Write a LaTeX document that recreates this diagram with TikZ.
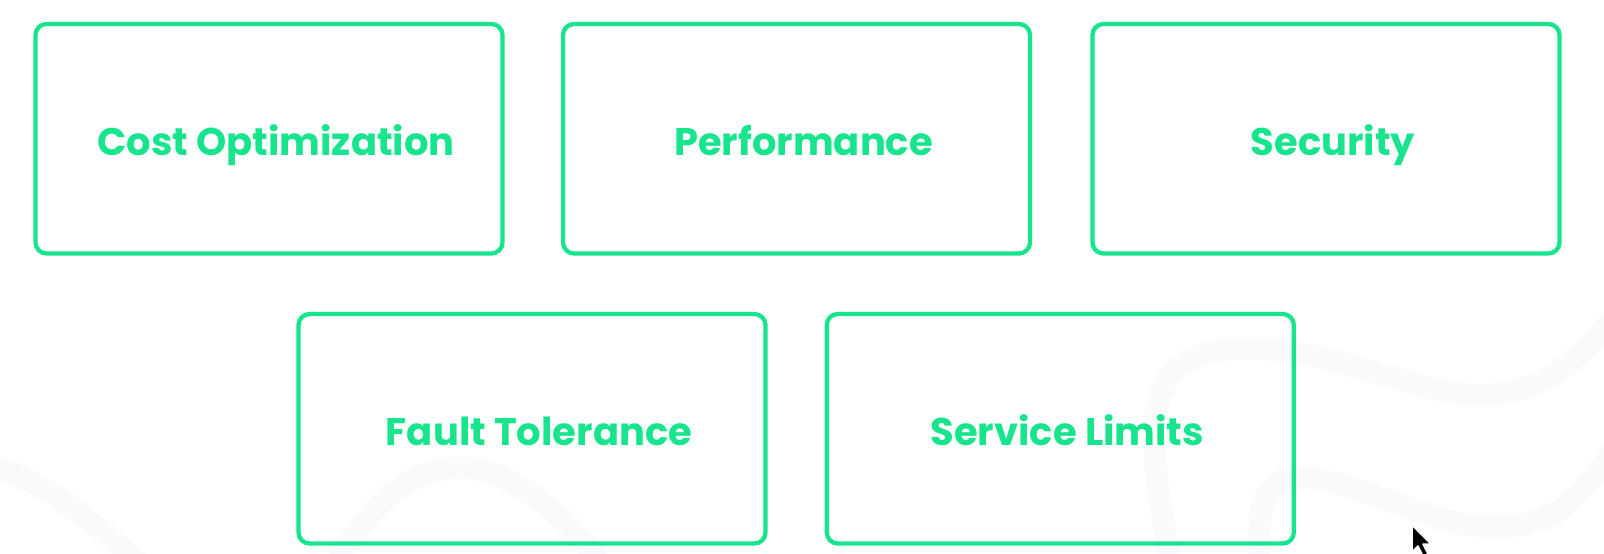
\documentclass[tikz,border=0pt]{standalone}
\usepackage{fontspec}
\setmainfont{Poppins}
\definecolor{mint}{RGB}{24,228,142}
\definecolor{wave}{RGB}{250,250,252}
\begin{document}
\begin{tikzpicture}[x=1pt,y=-1pt,
  card/.style={draw=mint, line width=4.3pt, rounded corners=11pt, minimum width=467pt, minimum height=229.5pt, inner sep=0pt},
  lbl/.style={text=mint, font=\fontsize{38.5}{42}\selectfont\bfseries, anchor=base, inner sep=0pt},
  bgwave/.style={draw=wave, line width=22pt, line cap=round}]
\fill[white] (0,0) rectangle (1604,554);
\useasboundingbox (0,0) rectangle (1604,554);
% faint background waves
\draw[bgwave] (-20,462) .. controls (50,480) and (100,530) .. (160,580);
\draw[bgwave] (320,590) .. controls (370,500) and (410,468) .. (460,468) .. controls (520,468) and (580,530) .. (620,590);
\draw[bgwave] (1175,590) .. controls (1160,500) and (1140,420) .. (1170,375) .. controls (1200,340) and (1270,345) .. (1330,360) .. controls (1400,378) and (1440,395) .. (1480,395) .. controls (1540,395) and (1580,360) .. (1620,310);
\draw[bgwave] (1262,590) .. controls (1258,540) and (1255,500) .. (1275,485) .. controls (1300,465) and (1360,490) .. (1420,512) .. controls (1470,530) and (1520,535) .. (1560,510) .. controls (1585,490) and (1600,470) .. (1620,440);
% cards
\node[card] (c1) at (269,138.75) {};
\node[card] (c2) at (796.5,138.75) {};
\node[card] (c3) at (1326,138.75) {};
\node[card] (c4) at (532,428.75) {};
\node[card] (c5) at (1060.3,428.75) {};
\node[lbl] (t1) at ([xshift=7pt,yshift=-16.5pt]c1.center) {Cost Optimization};
\node[lbl] (t2) at ([xshift=7pt,yshift=-16.5pt]c2.center) {Performance};
\node[lbl] (t3) at ([xshift=7pt,yshift=-16.5pt]c3.center) {Security};
\node[lbl] (t4) at ([xshift=7pt,yshift=-16.5pt]c4.center) {Fault Tolerance};
\node[lbl] (t5) at ([xshift=7pt,yshift=-16.5pt]c5.center) {Service Limits};
% cursor
\filldraw[fill=black, draw=white, line width=1.5pt, line join=round]
  (1412,525) -- (1412,552) -- (1418,546) -- (1423,556) -- (1428,554) -- (1423,544) -- (1431,544) -- cycle;
\end{tikzpicture}
\end{document}
